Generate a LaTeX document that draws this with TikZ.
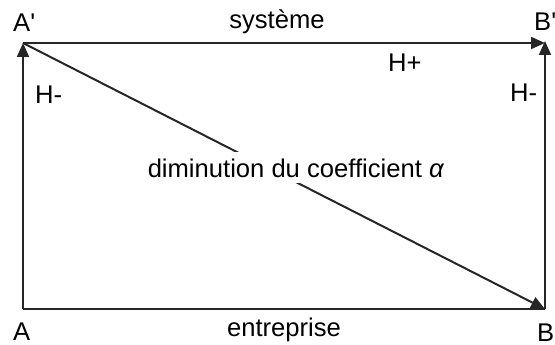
\documentclass[tikz,border=0pt]{standalone}
\usepackage{fontspec}
\setmainfont{Liberation Sans}[Ligatures=TeXOff]
\usetikzlibrary{arrows.meta}
\begin{document}
\begin{tikzpicture}[x=1pt,y=-1pt,
  lbl/.style={inner sep=0pt,font=\fontsize{25.6}{30}\selectfont},
  conn/.style={line width=2pt,draw=black!85},
  arr/.style={conn,-{Triangle[length=14pt,width=12pt]}}]
\useasboundingbox (0,0) rectangle (555,345);
\coordinate (A') at (23,43);
\coordinate (B') at (545,43);
\coordinate (A) at (23,309);
\coordinate (B) at (545,309);
\draw[conn] (A) -- (B);
\draw[arr] (A) -- (A');
\draw[arr] (B) -- ([yshift=2]B');
\draw[arr] (A') -- (B');
\draw[arr] (A') -- (B);
\node[lbl,fill=white,inner xsep=3pt,inner ysep=6pt,anchor=base] (dim) at (296,177) {diminution du coefficient \textit{α}};
\node[lbl,anchor=base west] (la') at (13,32) {A'};
\node[lbl,anchor=base west] (lb') at (534,31) {B'};
\node[lbl,anchor=base west] (la) at (13,340) {A};
\node[lbl,anchor=base west] (lb) at (537,341) {B};
\node[lbl,anchor=base] (sys) at (277,29) {système};
\node[lbl,anchor=base] (ent) at (284,336) {entreprise};
\node[lbl,anchor=base west] (hl) at (35,103) {H-};
\node[lbl,anchor=base west] (hp) at (388,72) {H+};
\node[lbl,anchor=base west] (hr) at (510,102) {H-};
\end{tikzpicture}
\end{document}
